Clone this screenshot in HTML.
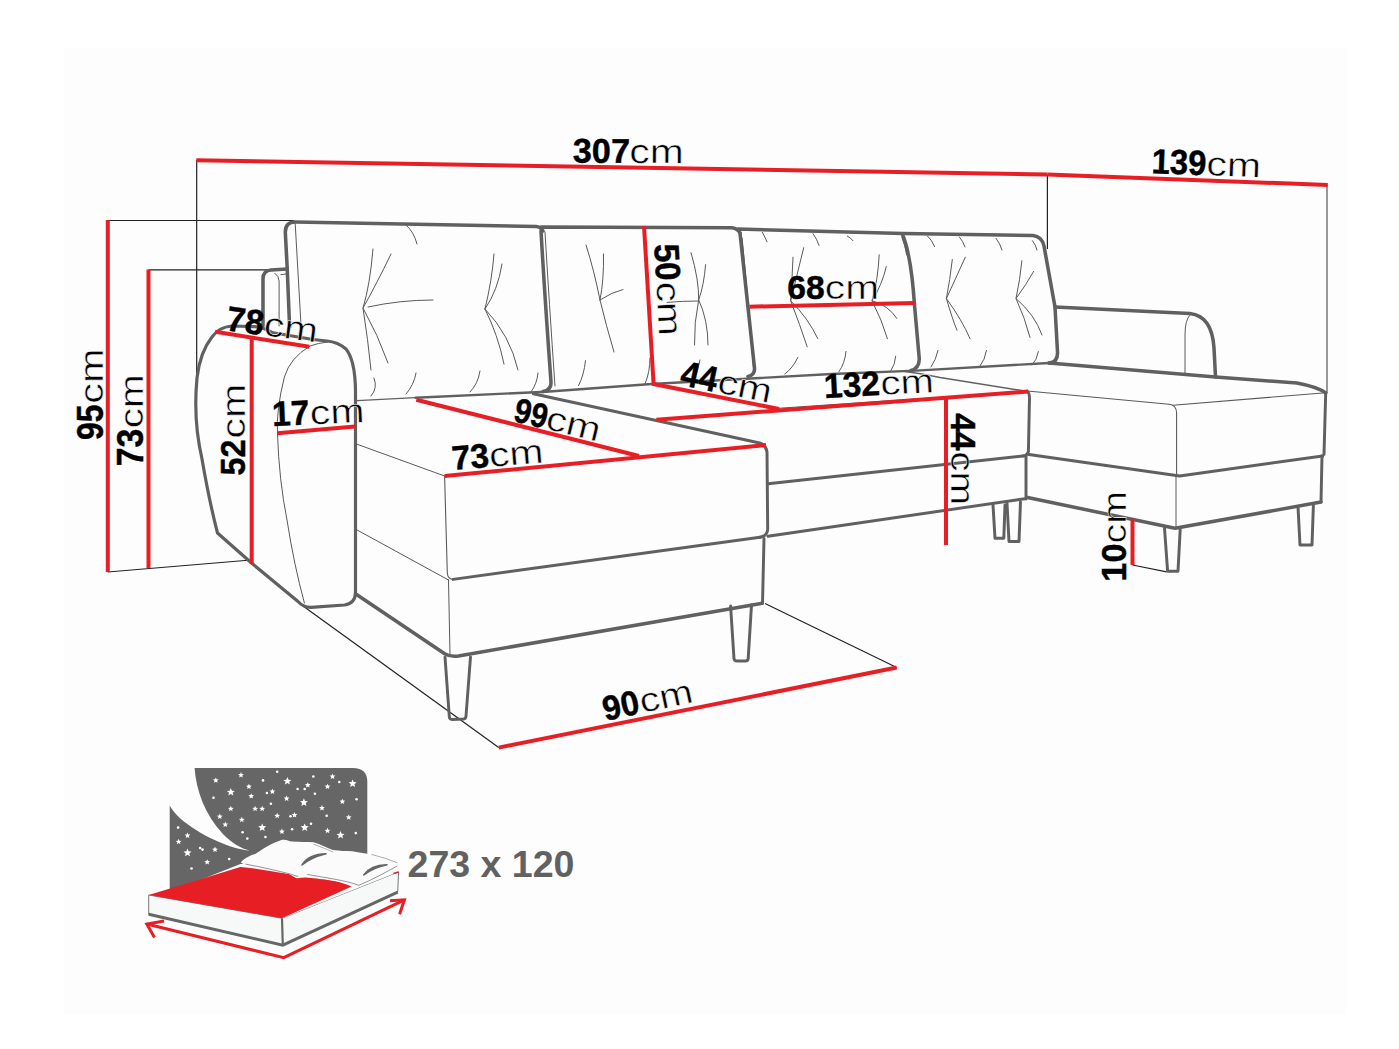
<!DOCTYPE html>
<html><head><meta charset="utf-8"><style>
html,body{margin:0;padding:0;background:#fff;width:1399px;height:1049px;overflow:hidden}
svg{display:block}
.n{font-family:"Liberation Sans",sans-serif;font-weight:bold;fill:#000;stroke:#000;stroke-width:0.45px}
.c{font-family:"Liberation Sans",sans-serif;font-weight:normal;fill:#000;stroke:#fff;stroke-width:0.5px}
</style></head><body>
<svg width="1399" height="1049" viewBox="0 0 1399 1049">
<rect width="1399" height="1049" fill="#fff"/>
<rect x="64" y="48" width="1283" height="967" fill="#fdfdfd"/>
<line x1="196.7" y1="160" x2="196.7" y2="380" stroke="#222" stroke-width="1.2" stroke-linecap="butt"/>
<line x1="108" y1="220.5" x2="294" y2="220.5" stroke="#222" stroke-width="1.2" stroke-linecap="butt"/>
<line x1="148.5" y1="269.8" x2="268" y2="269.8" stroke="#222" stroke-width="1.2" stroke-linecap="butt"/>
<line x1="107.6" y1="572" x2="251" y2="560" stroke="#222" stroke-width="1.2" stroke-linecap="butt"/>
<line x1="1047.4" y1="174.5" x2="1047.4" y2="249" stroke="#222" stroke-width="1.2" stroke-linecap="butt"/>
<line x1="1327" y1="185" x2="1327" y2="393" stroke="#777" stroke-width="1.5" stroke-linecap="butt"/>
<line x1="303" y1="606" x2="498.7" y2="747.6" stroke="#222" stroke-width="1.2" stroke-linecap="butt"/>
<line x1="765" y1="603.5" x2="896.7" y2="667.5" stroke="#222" stroke-width="1.2" stroke-linecap="butt"/>
<line x1="1132.5" y1="565" x2="1166.6" y2="571.8" stroke="#222" stroke-width="1.2" stroke-linecap="butt"/>
<path d="M287.2,268 L285.3,232 Q285.5,222 295,222 L536,226.5 Q541,227 543,231 M541,227 L732,227.7 Q738,228.5 740,233 M738,229 L903,233.6 L1033,235.5 Q1042,236.5 1044,246 L1055,307 L1057.5,352 Q1058,362.5 1049,363" stroke="#606060" stroke-width="3.54" fill="none" stroke-linecap="round" stroke-linejoin="round" />
<path d="M287.2,268 L289.6,327" stroke="#606060" stroke-width="3.54" fill="none" stroke-linecap="round" stroke-linejoin="round" />
<path d="M295.2,223.6 L300.8,321.5" stroke="#5a5a5a" stroke-width="1" fill="none" stroke-linecap="round" stroke-linejoin="round" />
<path d="M287,269 L271,270 Q263,270.5 263,279 L263,326" stroke="#606060" stroke-width="3.54" fill="none" stroke-linecap="round" stroke-linejoin="round" />
<path d="M274.8,273.2 Q279,276 279.1,281 L279.1,326" stroke="#5a5a5a" stroke-width="1" fill="none" stroke-linecap="round" stroke-linejoin="round" />
<path d="M281,274.6 L286,274" stroke="#5a5a5a" stroke-width="1" fill="none" stroke-linecap="round" stroke-linejoin="round" />
<path d="M541,231 Q545,300 551,382 Q551.5,390 543,391.6" stroke="#606060" stroke-width="3.54" fill="none" stroke-linecap="round" stroke-linejoin="round" />
<path d="M545,232 Q549,300 555,386" stroke="#5a5a5a" stroke-width="1" fill="none" stroke-linecap="round" stroke-linejoin="round" />
<path d="M740,233 Q747,300 754.5,368 Q755,375 748,376.5" stroke="#606060" stroke-width="3.54" fill="none" stroke-linecap="round" stroke-linejoin="round" />
<path d="M742,238 Q748,300 754,373" stroke="#5a5a5a" stroke-width="1.2" fill="none" stroke-linecap="round" stroke-linejoin="round" />
<path d="M902.5,234.5 C909,250 912.5,275 914.5,305 L919.2,358 Q919.8,368 911,370.5" stroke="#606060" stroke-width="3.54" fill="none" stroke-linecap="round" stroke-linejoin="round" />
<path d="M902,237.5 Q905,245 906.7,255" stroke="#5a5a5a" stroke-width="1" fill="none" stroke-linecap="round" stroke-linejoin="round" />
<path d="M357,400.6 L415.5,397.7" stroke="#606060" stroke-width="1.2" fill="none" stroke-linecap="round" stroke-linejoin="round" />
<path d="M415.5,397.7 L546,391.8 L651.5,384 L760,378 L831.5,374 L916,370.6 L1049,363" stroke="#606060" stroke-width="2.36" fill="none" stroke-linecap="round" stroke-linejoin="round" />
<path d="M373,249 Q370,285 363,308 Q368,340 371,370" stroke="#5a5a5a" stroke-width="1" fill="none" stroke-linecap="round" stroke-linejoin="round" />
<path d="M391,254 Q376,285 363,308 Q378,335 388,363" stroke="#5a5a5a" stroke-width="1" fill="none" stroke-linecap="round" stroke-linejoin="round" />
<path d="M368,307 Q400,300 433,300" stroke="#5a5a5a" stroke-width="1" fill="none" stroke-linecap="round" stroke-linejoin="round" />
<path d="M406,225 Q414,232 417,244" stroke="#5a5a5a" stroke-width="1" fill="none" stroke-linecap="round" stroke-linejoin="round" />
<path d="M485,309 Q492,280 494,254" stroke="#5a5a5a" stroke-width="1" fill="none" stroke-linecap="round" stroke-linejoin="round" />
<path d="M485,309 Q498,290 502,264" stroke="#5a5a5a" stroke-width="1" fill="none" stroke-linecap="round" stroke-linejoin="round" />
<path d="M485,309 Q498,335 504,364" stroke="#5a5a5a" stroke-width="1" fill="none" stroke-linecap="round" stroke-linejoin="round" />
<path d="M485,309 Q510,335 518,370" stroke="#5a5a5a" stroke-width="1" fill="none" stroke-linecap="round" stroke-linejoin="round" />
<path d="M374,378 Q378,388 371,396" stroke="#5a5a5a" stroke-width="1" fill="none" stroke-linecap="round" stroke-linejoin="round" />
<path d="M416,373 Q414,385 406,394" stroke="#5a5a5a" stroke-width="1" fill="none" stroke-linecap="round" stroke-linejoin="round" />
<path d="M480,371 Q478,384 470,392" stroke="#5a5a5a" stroke-width="1" fill="none" stroke-linecap="round" stroke-linejoin="round" />
<path d="M538,373 Q537,384 531,392" stroke="#5a5a5a" stroke-width="1" fill="none" stroke-linecap="round" stroke-linejoin="round" />
<path d="M586,245 Q594,270 600,300 Q606,325 614,352" stroke="#5a5a5a" stroke-width="1" fill="none" stroke-linecap="round" stroke-linejoin="round" />
<path d="M603.5,254 Q604,280 600,300" stroke="#5a5a5a" stroke-width="1" fill="none" stroke-linecap="round" stroke-linejoin="round" />
<path d="M600,300 Q612,292 623,289.5" stroke="#5a5a5a" stroke-width="1" fill="none" stroke-linecap="round" stroke-linejoin="round" />
<path d="M691,252.6 Q699,280 698.7,300 Q694,322 694.5,345" stroke="#5a5a5a" stroke-width="1" fill="none" stroke-linecap="round" stroke-linejoin="round" />
<path d="M705.6,264.6 Q704,285 698.7,300 Q708,320 708,345" stroke="#5a5a5a" stroke-width="1" fill="none" stroke-linecap="round" stroke-linejoin="round" />
<path d="M667,302.4 Q683,301 698,301" stroke="#5a5a5a" stroke-width="1" fill="none" stroke-linecap="round" stroke-linejoin="round" />
<path d="M585.5,360.7 Q584,375 578.6,385.6" stroke="#5a5a5a" stroke-width="1" fill="none" stroke-linecap="round" stroke-linejoin="round" />
<path d="M650,358 Q650,372 645,384" stroke="#5a5a5a" stroke-width="1" fill="none" stroke-linecap="round" stroke-linejoin="round" />
<path d="M700,360 Q698,372 693,382" stroke="#5a5a5a" stroke-width="1" fill="none" stroke-linecap="round" stroke-linejoin="round" />
<path d="M803.7,247.7 Q797,275 790.7,300.8 Q800,325 807.2,346.8" stroke="#5a5a5a" stroke-width="1" fill="none" stroke-linecap="round" stroke-linejoin="round" />
<path d="M793,257.2 Q792,280 790.7,300.8 Q808,318 817.8,338.6" stroke="#5a5a5a" stroke-width="1" fill="none" stroke-linecap="round" stroke-linejoin="round" />
<path d="M879.2,254.8 Q878,280 872,300.8 Q882,320 887.4,338.6" stroke="#5a5a5a" stroke-width="1" fill="none" stroke-linecap="round" stroke-linejoin="round" />
<path d="M886.3,266.6 Q882,285 872,300.8 Q888,305 896.9,318.5" stroke="#5a5a5a" stroke-width="1" fill="none" stroke-linecap="round" stroke-linejoin="round" />
<path d="M762.4,232.4 Q765,237 767,241.8" stroke="#5a5a5a" stroke-width="1" fill="none" stroke-linecap="round" stroke-linejoin="round" />
<path d="M813,233.6 Q817,239 819,245.4" stroke="#5a5a5a" stroke-width="1" fill="none" stroke-linecap="round" stroke-linejoin="round" />
<path d="M847.3,236 Q851,238 853,240.7" stroke="#5a5a5a" stroke-width="1" fill="none" stroke-linecap="round" stroke-linejoin="round" />
<path d="M797.8,357.4 Q793,368 784.8,374" stroke="#5a5a5a" stroke-width="1" fill="none" stroke-linecap="round" stroke-linejoin="round" />
<path d="M846,351.5 Q845,363 839,371.6" stroke="#5a5a5a" stroke-width="1" fill="none" stroke-linecap="round" stroke-linejoin="round" />
<path d="M895.7,356.3 Q895,365 891,370.4" stroke="#5a5a5a" stroke-width="1" fill="none" stroke-linecap="round" stroke-linejoin="round" />
<path d="M952.3,259.5 Q950,280 946.4,298.5 Q952,318 957,330.3" stroke="#5a5a5a" stroke-width="1" fill="none" stroke-linecap="round" stroke-linejoin="round" />
<path d="M965.3,257.2 Q955,280 946.4,298.5 Q962,320 970,338.6" stroke="#5a5a5a" stroke-width="1" fill="none" stroke-linecap="round" stroke-linejoin="round" />
<path d="M1021.9,260.7 Q1020,280 1016,298.5 Q1025,318 1030,337.4" stroke="#5a5a5a" stroke-width="1" fill="none" stroke-linecap="round" stroke-linejoin="round" />
<path d="M1033.7,271.3 Q1026,285 1016,298.5 Q1035,315 1042,335" stroke="#5a5a5a" stroke-width="1" fill="none" stroke-linecap="round" stroke-linejoin="round" />
<path d="M927.5,236 Q932,240 934.6,246.6" stroke="#5a5a5a" stroke-width="1" fill="none" stroke-linecap="round" stroke-linejoin="round" />
<path d="M959.4,237 Q963,241 965,247" stroke="#5a5a5a" stroke-width="1" fill="none" stroke-linecap="round" stroke-linejoin="round" />
<path d="M996,238.3 Q1000,243 1002,250" stroke="#5a5a5a" stroke-width="1" fill="none" stroke-linecap="round" stroke-linejoin="round" />
<path d="M1032.5,240.7 Q1036,245 1037,250" stroke="#5a5a5a" stroke-width="1" fill="none" stroke-linecap="round" stroke-linejoin="round" />
<path d="M938,350.4 Q936,360 931,367" stroke="#5a5a5a" stroke-width="1" fill="none" stroke-linecap="round" stroke-linejoin="round" />
<path d="M986.5,350.4 Q985,360 980,366" stroke="#5a5a5a" stroke-width="1" fill="none" stroke-linecap="round" stroke-linejoin="round" />
<path d="M1038.4,351.5 Q1037,360 1032,365" stroke="#5a5a5a" stroke-width="1" fill="none" stroke-linecap="round" stroke-linejoin="round" />
<path d="M231.6,326 Q219,327 212,337 Q200,352 197,378 Q193,420 202,459 Q209,500 217.5,533 L251.5,563 L298,601.5 Q303.5,607.5 311,607.3 L344.5,605 Q355.5,603.5 355.5,592 L355.5,390 Q355,360 346,349 Q338,342 327,341 L313,339.5 L273,332.8 Q262,327 254.7,326.7 Z" stroke="#606060" stroke-width="3.19" fill="none" stroke-linecap="round" stroke-linejoin="round" />
<path d="M327.6,342 Q318,343 310,346 Q290,358 284.4,377 Q276,410 277.5,434 Q279,480 287,520 Q294,565 304.4,603" stroke="#5a5a5a" stroke-width="1" fill="none" stroke-linecap="round" stroke-linejoin="round" />
<path d="M533.4,393.8 L759.7,443 Q766,445 767,452 L767.7,529 Q767.5,536 760,537.3" stroke="#606060" stroke-width="2.95" fill="none" stroke-linecap="round" stroke-linejoin="round" />
<path d="M356.4,444 L444.6,476" stroke="#5a5a5a" stroke-width="1" fill="none" stroke-linecap="round" stroke-linejoin="round" />
<path d="M444.6,476 L447.3,573 Q447.8,579.6 454,579.3" stroke="#5a5a5a" stroke-width="1.1" fill="none" stroke-linecap="round" stroke-linejoin="round" />
<path d="M356.4,529.6 L448.5,580" stroke="#5a5a5a" stroke-width="1" fill="none" stroke-linecap="round" stroke-linejoin="round" />
<path d="M453,579.4 L760,537.3" stroke="#606060" stroke-width="2.95" fill="none" stroke-linecap="round" stroke-linejoin="round" />
<path d="M448.5,580 L450,654.6" stroke="#5a5a5a" stroke-width="1" fill="none" stroke-linecap="round" stroke-linejoin="round" />
<path d="M764,538.5 L762.5,603.6" stroke="#606060" stroke-width="2.95" fill="none" stroke-linecap="round" stroke-linejoin="round" />
<path d="M355.8,594 L444.7,653.8 Q450,657 458.4,656 L761,603.5" stroke="#606060" stroke-width="3.54" fill="none" stroke-linecap="round" stroke-linejoin="round" />
<path d="M445,657 L449.3,716.5 Q449.5,719.5 452,719.5 L463.5,719 Q466,718.8 466,716 L470.5,657" stroke="#606060" stroke-width="2.95" fill="none" stroke-linecap="round" stroke-linejoin="round" />
<path d="M730.6,606 L734,658.6 Q734.3,661 737,661 L745.5,661 Q748,661 748.2,658.6 L751.5,605" stroke="#606060" stroke-width="2.95" fill="none" stroke-linecap="round" stroke-linejoin="round" />
<path d="M768,409 L1027.4,391.4" stroke="#5a5a5a" stroke-width="1" fill="none" stroke-linecap="round" stroke-linejoin="round" />
<path d="M1027.4,391.4 Q1029.5,393 1029.5,398 L1028.4,451.5 Q1027,456 1023,456" stroke="#606060" stroke-width="2.95" fill="none" stroke-linecap="round" stroke-linejoin="round" />
<path d="M768,483.7 L1023,456" stroke="#606060" stroke-width="2.95" fill="none" stroke-linecap="round" stroke-linejoin="round" />
<path d="M1026,456 L1026,499" stroke="#606060" stroke-width="2.95" fill="none" stroke-linecap="round" stroke-linejoin="round" />
<path d="M768,536.2 L1025,498.7" stroke="#606060" stroke-width="2.95" fill="none" stroke-linecap="round" stroke-linejoin="round" />
<path d="M905,371.5 Q922,373.5 940,377.5 L1027.4,391.4" stroke="#606060" stroke-width="1.5" fill="none" stroke-linecap="round" stroke-linejoin="round" />
<path d="M993,505 L995,538.3 L1003.8,538.3 L1005,505" stroke="#606060" stroke-width="2.95" fill="none" stroke-linecap="round" stroke-linejoin="round" />
<path d="M1007,503 L1009,541.5 L1019,541.5 L1020.5,502" stroke="#606060" stroke-width="2.95" fill="none" stroke-linecap="round" stroke-linejoin="round" />
<path d="M1055,307 L1190,313.5 Q1212,316 1214,348 L1215.5,377" stroke="#606060" stroke-width="3.54" fill="none" stroke-linecap="round" stroke-linejoin="round" />
<path d="M1190,315 Q1185,320 1185,335 L1185,375" stroke="#5a5a5a" stroke-width="1" fill="none" stroke-linecap="round" stroke-linejoin="round" />
<path d="M1049,363 L1215.5,377 L1297,383 Q1318,387 1325.7,393" stroke="#606060" stroke-width="3.54" fill="none" stroke-linecap="round" stroke-linejoin="round" />
<path d="M1027.4,391 L1169,404.3 Q1176.4,405 1176.6,413 L1176.6,476" stroke="#5a5a5a" stroke-width="1.1" fill="none" stroke-linecap="round" stroke-linejoin="round" />
<path d="M1173,405.2 L1322.6,393" stroke="#5a5a5a" stroke-width="1.1" fill="none" stroke-linecap="round" stroke-linejoin="round" />
<path d="M1325.7,393 L1324,454.5" stroke="#606060" stroke-width="2.95" fill="none" stroke-linecap="round" stroke-linejoin="round" />
<path d="M1029,454.5 L1179.7,476 L1322.6,456" stroke="#606060" stroke-width="2.95" fill="none" stroke-linecap="round" stroke-linejoin="round" />
<path d="M1322,456 L1321,502" stroke="#606060" stroke-width="2.95" fill="none" stroke-linecap="round" stroke-linejoin="round" />
<path d="M1027.6,497.5 L1175,528.3 L1321,502" stroke="#606060" stroke-width="3.54" fill="none" stroke-linecap="round" stroke-linejoin="round" />
<path d="M1176,476 L1176,528" stroke="#5a5a5a" stroke-width="1" fill="none" stroke-linecap="round" stroke-linejoin="round" />
<path d="M1164.5,528.2 L1167.6,571.2 L1178,571.2 L1180.2,529.3" stroke="#606060" stroke-width="2.95" fill="none" stroke-linecap="round" stroke-linejoin="round" />
<path d="M1298,506.8 L1300,545 L1312,545 L1313.4,505" stroke="#606060" stroke-width="2.95" fill="none" stroke-linecap="round" stroke-linejoin="round" />
<path d="M196.3,160.3 L1047.4,174.6" stroke="#e81e25" stroke-width="4" fill="none" stroke-linejoin="miter" stroke-linecap="butt"/>
<path d="M1047.4,174.6 L1327.8,185" stroke="#e81e25" stroke-width="4" fill="none" stroke-linejoin="miter" stroke-linecap="butt"/>
<path d="M107.8,220 L107.8,572" stroke="#e81e25" stroke-width="4" fill="none" stroke-linejoin="miter" stroke-linecap="butt"/>
<path d="M148.5,269.5 L148.5,568" stroke="#e81e25" stroke-width="4" fill="none" stroke-linejoin="miter" stroke-linecap="butt"/>
<path d="M215.2,331.8 L309.4,346.8" stroke="#e81e25" stroke-width="4" fill="none" stroke-linejoin="miter" stroke-linecap="butt"/>
<path d="M251.7,338 L251.7,564" stroke="#e81e25" stroke-width="4" fill="none" stroke-linejoin="miter" stroke-linecap="butt"/>
<path d="M277.5,433.3 L355.2,426.5" stroke="#e81e25" stroke-width="4" fill="none" stroke-linejoin="miter" stroke-linecap="butt"/>
<path d="M416.3,399.7 L639,456" stroke="#e81e25" stroke-width="4" fill="none" stroke-linejoin="miter" stroke-linecap="butt"/>
<path d="M444.6,476 L766,445" stroke="#e81e25" stroke-width="4" fill="none" stroke-linejoin="miter" stroke-linecap="butt"/>
<path d="M644,226 L653.6,384 L779,409" stroke="#e81e25" stroke-width="4" fill="none" stroke-linejoin="miter" stroke-linecap="butt"/>
<path d="M656.4,419.8 L1028,391.5" stroke="#e81e25" stroke-width="4" fill="none" stroke-linejoin="miter" stroke-linecap="butt"/>
<path d="M749.4,306.7 L914.6,303" stroke="#e81e25" stroke-width="4" fill="none" stroke-linejoin="miter" stroke-linecap="butt"/>
<path d="M946,398 L946,545" stroke="#e81e25" stroke-width="4" fill="none" stroke-linejoin="miter" stroke-linecap="butt"/>
<path d="M1132.5,518.8 L1132.5,565" stroke="#e81e25" stroke-width="4" fill="none" stroke-linejoin="miter" stroke-linecap="butt"/>
<path d="M498.7,747.6 L896.7,667.5" stroke="#e81e25" stroke-width="4" fill="none" stroke-linejoin="miter" stroke-linecap="butt"/>
<g transform="translate(573.5,162.6) rotate(0.3)"><text class="n" x="-0.68" y="0" font-size="34.29" textLength="57.11" lengthAdjust="spacingAndGlyphs">307</text><text class="c" x="55.77" y="0" font-size="33.89" textLength="54.30" lengthAdjust="spacingAndGlyphs">cm</text></g>
<g transform="translate(1153.3,173.2) rotate(2.1)"><text class="n" x="-1.97" y="0" font-size="35.00" textLength="54.73" lengthAdjust="spacingAndGlyphs">139</text><text class="c" x="52.86" y="0" font-size="33.89" textLength="54.63" lengthAdjust="spacingAndGlyphs">cm</text></g>
<g transform="translate(102.5,439) rotate(-90)"><text class="n" x="-0.95" y="0" font-size="36.29" textLength="35.38" lengthAdjust="spacingAndGlyphs">95</text><text class="c" x="35.34" y="0" font-size="33.89" textLength="55.28" lengthAdjust="spacingAndGlyphs">cm</text></g>
<g transform="translate(143,465) rotate(-90)"><text class="n" x="-1.35" y="0" font-size="36.14" textLength="37.65" lengthAdjust="spacingAndGlyphs">73</text><text class="c" x="36.68" y="0" font-size="33.89" textLength="53.87" lengthAdjust="spacingAndGlyphs">cm</text></g>
<g transform="translate(245,474.5) rotate(-90)"><text class="n" x="-0.97" y="0" font-size="35.14" textLength="36.04" lengthAdjust="spacingAndGlyphs">52</text><text class="c" x="36.06" y="0" font-size="33.89" textLength="54.63" lengthAdjust="spacingAndGlyphs">cm</text></g>
<g transform="translate(226.5,330.5) rotate(7.5)"><text class="n" x="-1.35" y="0" font-size="35.00" textLength="37.43" lengthAdjust="spacingAndGlyphs">78</text><text class="c" x="36.47" y="0" font-size="33.89" textLength="54.30" lengthAdjust="spacingAndGlyphs">cm</text></g>
<g transform="translate(274.6,426) rotate(-2.5)"><text class="n" x="-2.01" y="0" font-size="34.86" textLength="37.22" lengthAdjust="spacingAndGlyphs">17</text><text class="c" x="35.66" y="0" font-size="33.89" textLength="54.73" lengthAdjust="spacingAndGlyphs">cm</text></g>
<g transform="translate(513,421) rotate(13.7)"><text class="n" x="-0.90" y="0" font-size="34.29" textLength="33.48" lengthAdjust="spacingAndGlyphs">99</text><text class="c" x="32.05" y="0" font-size="33.89" textLength="55.06" lengthAdjust="spacingAndGlyphs">cm</text></g>
<g transform="translate(454,470) rotate(-4.8)"><text class="n" x="-1.34" y="0" font-size="34.00" textLength="37.33" lengthAdjust="spacingAndGlyphs">73</text><text class="c" x="36.17" y="0" font-size="33.89" textLength="54.41" lengthAdjust="spacingAndGlyphs">cm</text></g>
<g transform="translate(654.3,245.4) rotate(87)"><text class="n" x="-0.99" y="0" font-size="35.14" textLength="36.69" lengthAdjust="spacingAndGlyphs">50</text><text class="c" x="36.88" y="0" font-size="33.89" textLength="54.08" lengthAdjust="spacingAndGlyphs">cm</text></g>
<g transform="translate(679.3,384.8) rotate(11.5)"><text class="n" x="-0.33" y="0" font-size="35.71" textLength="36.91" lengthAdjust="spacingAndGlyphs">44</text><text class="c" x="37.36" y="0" font-size="33.89" textLength="54.73" lengthAdjust="spacingAndGlyphs">cm</text></g>
<g transform="translate(788.6,299.3) rotate(0)"><text class="n" x="-1.35" y="0" font-size="34.00" textLength="37.43" lengthAdjust="spacingAndGlyphs">68</text><text class="c" x="36.27" y="0" font-size="33.89" textLength="54.19" lengthAdjust="spacingAndGlyphs">cm</text></g>
<g transform="translate(826.5,397.8) rotate(-3)"><text class="n" x="-2.01" y="0" font-size="34.29" textLength="56.01" lengthAdjust="spacingAndGlyphs">132</text><text class="c" x="54.50" y="0" font-size="33.89" textLength="53.43" lengthAdjust="spacingAndGlyphs">cm</text></g>
<g transform="translate(951.2,413.5) rotate(90)"><text class="n" x="-0.33" y="0" font-size="35.43" textLength="37.21" lengthAdjust="spacingAndGlyphs">44</text><text class="c" x="37.88" y="0" font-size="33.89" textLength="53.98" lengthAdjust="spacingAndGlyphs">cm</text></g>
<g transform="translate(1126,579.6) rotate(-90)"><text class="n" x="-2.06" y="0" font-size="35.29" textLength="38.11" lengthAdjust="spacingAndGlyphs">10</text><text class="c" x="36.13" y="0" font-size="33.89" textLength="52.35" lengthAdjust="spacingAndGlyphs">cm</text></g>
<g transform="translate(606.3,720.7) rotate(-12)"><text class="n" x="-0.99" y="0" font-size="34.57" textLength="36.58" lengthAdjust="spacingAndGlyphs">90</text><text class="c" x="36.59" y="0" font-size="33.89" textLength="53.76" lengthAdjust="spacingAndGlyphs">cm</text></g>
<path d="M169.7,768 L353,768 Q367.3,768 367.3,782 L367.3,895 L169.7,895 Z" fill="#666"/>
<path d="M160,760 L194.6,768 C196,790 205,815 222.9,834 C232,843 240,848 249.6,850.6 C232,849 205,838 183.6,821.3 C177,816 172,810 169.7,805.6 L160,805.6 Z" fill="#fdfdfd"/>
<polygon points="230.8,788.0 231.9,790.7 234.8,790.9 232.6,792.8 233.3,795.6 230.8,794.1 228.3,795.6 229.0,792.8 226.8,790.9 229.7,790.7" fill="#fff"/>
<polygon points="287.4,777.0 288.5,779.7 291.4,779.9 289.2,781.8 289.9,784.6 287.4,783.1 284.9,784.6 285.6,781.8 283.4,779.9 286.3,779.7" fill="#fff"/>
<polygon points="303.9,798.3 305.0,801.0 307.9,801.2 305.7,803.1 306.4,805.9 303.9,804.4 301.4,805.9 302.1,803.1 299.9,801.2 302.8,801.0" fill="#fff"/>
<polygon points="262.2,823.4 263.3,826.1 266.2,826.3 264.0,828.2 264.7,831.0 262.2,829.5 259.7,831.0 260.4,828.2 258.2,826.3 261.1,826.1" fill="#fff"/>
<polygon points="304.7,823.4 305.8,826.1 308.7,826.3 306.5,828.2 307.2,831.0 304.7,829.5 302.2,831.0 302.9,828.2 300.7,826.3 303.6,826.1" fill="#fff"/>
<polygon points="352.6,779.4 353.7,782.1 356.6,782.3 354.4,784.2 355.1,787.0 352.6,785.5 350.1,787.0 350.8,784.2 348.6,782.3 351.5,782.1" fill="#fff"/>
<polygon points="340.5,831.0 341.6,833.7 344.5,833.9 342.3,835.8 343.0,838.6 340.5,837.1 338.0,838.6 338.7,835.8 336.5,833.9 339.4,833.7" fill="#fff"/>
<polygon points="187.5,848.6 188.6,851.3 191.5,851.5 189.3,853.4 190.0,856.2 187.5,854.7 185.0,856.2 185.7,853.4 183.5,851.5 186.4,851.3" fill="#fff"/>
<polygon points="215.8,777.4 216.6,779.3 218.7,779.5 217.1,780.8 217.6,782.8 215.8,781.8 214.0,782.8 214.5,780.8 212.9,779.5 215.0,779.3" fill="#fff"/>
<polygon points="241.0,772.0 241.8,773.9 243.9,774.1 242.3,775.4 242.8,777.4 241.0,776.4 239.2,777.4 239.7,775.4 238.1,774.1 240.2,773.9" fill="#fff"/>
<polygon points="248.9,783.7 249.7,785.6 251.8,785.8 250.2,787.1 250.7,789.1 248.9,788.1 247.1,789.1 247.6,787.1 246.0,785.8 248.1,785.6" fill="#fff"/>
<polygon points="251.2,793.2 252.0,795.1 254.1,795.3 252.5,796.6 253.0,798.6 251.2,797.6 249.4,798.6 249.9,796.6 248.3,795.3 250.4,795.1" fill="#fff"/>
<polygon points="272.4,788.5 273.2,790.4 275.3,790.6 273.7,791.9 274.2,793.9 272.4,792.9 270.6,793.9 271.1,791.9 269.5,790.6 271.6,790.4" fill="#fff"/>
<polygon points="230.8,805.8 231.6,807.7 233.7,807.9 232.1,809.2 232.6,811.2 230.8,810.1 229.0,811.2 229.5,809.2 227.9,807.9 230.0,807.7" fill="#fff"/>
<polygon points="255.1,805.8 255.9,807.7 258.0,807.9 256.4,809.2 256.9,811.2 255.1,810.1 253.3,811.2 253.8,809.2 252.2,807.9 254.3,807.7" fill="#fff"/>
<polygon points="262.2,805.8 263.0,807.7 265.1,807.9 263.5,809.2 264.0,811.2 262.2,810.1 260.4,811.2 260.9,809.2 259.3,807.9 261.4,807.7" fill="#fff"/>
<polygon points="219.8,813.6 220.6,815.5 222.7,815.7 221.1,817.0 221.6,819.0 219.8,818.0 218.0,819.0 218.5,817.0 216.9,815.7 219.0,815.5" fill="#fff"/>
<polygon points="241.8,816.8 242.6,818.7 244.7,818.9 243.1,820.2 243.6,822.2 241.8,821.1 240.0,822.2 240.5,820.2 238.9,818.9 241.0,818.7" fill="#fff"/>
<polygon points="225.3,821.5 226.1,823.4 228.2,823.6 226.6,824.9 227.1,826.9 225.3,825.9 223.5,826.9 224.0,824.9 222.4,823.6 224.5,823.4" fill="#fff"/>
<polygon points="277.2,812.8 278.0,814.7 280.1,814.9 278.5,816.2 279.0,818.2 277.2,817.1 275.4,818.2 275.9,816.2 274.3,814.9 276.4,814.7" fill="#fff"/>
<polygon points="294.5,812.0 295.3,813.9 297.4,814.1 295.8,815.4 296.3,817.4 294.5,816.4 292.7,817.4 293.2,815.4 291.6,814.1 293.7,813.9" fill="#fff"/>
<polygon points="286.6,795.5 287.4,797.4 289.5,797.6 287.9,798.9 288.4,800.9 286.6,799.9 284.8,800.9 285.3,798.9 283.7,797.6 285.8,797.4" fill="#fff"/>
<polygon points="307.8,782.2 308.6,784.1 310.7,784.3 309.1,785.6 309.6,787.6 307.8,786.6 306.0,787.6 306.5,785.6 304.9,784.3 307.0,784.1" fill="#fff"/>
<polygon points="327.5,783.7 328.3,785.6 330.4,785.8 328.8,787.1 329.3,789.1 327.5,788.1 325.7,789.1 326.2,787.1 324.6,785.8 326.7,785.6" fill="#fff"/>
<polygon points="332.5,773.5 333.3,775.4 335.4,775.6 333.8,776.9 334.3,778.9 332.5,777.9 330.7,778.9 331.2,776.9 329.6,775.6 331.7,775.4" fill="#fff"/>
<polygon points="342.4,798.7 343.2,800.6 345.3,800.8 343.7,802.1 344.2,804.1 342.4,803.1 340.6,804.1 341.1,802.1 339.5,800.8 341.6,800.6" fill="#fff"/>
<polygon points="322.0,805.0 322.8,806.9 324.9,807.1 323.3,808.4 323.8,810.4 322.0,809.4 320.2,810.4 320.7,808.4 319.1,807.1 321.2,806.9" fill="#fff"/>
<polygon points="348.7,814.4 349.5,816.3 351.6,816.5 350.0,817.8 350.5,819.8 348.7,818.8 346.9,819.8 347.4,817.8 345.8,816.5 347.9,816.3" fill="#fff"/>
<polygon points="327.5,827.8 328.3,829.7 330.4,829.9 328.8,831.2 329.3,833.2 327.5,832.1 325.7,833.2 326.2,831.2 324.6,829.9 326.7,829.7" fill="#fff"/>
<polygon points="281.9,828.6 282.7,830.5 284.8,830.7 283.2,832.0 283.7,834.0 281.9,833.0 280.1,834.0 280.6,832.0 279.0,830.7 281.1,830.5" fill="#fff"/>
<polygon points="187.5,832.5 188.3,834.4 190.4,834.6 188.8,835.9 189.3,837.9 187.5,836.9 185.7,837.9 186.2,835.9 184.6,834.6 186.7,834.4" fill="#fff"/>
<polygon points="178.6,838.8 179.4,840.7 181.5,840.9 179.9,842.2 180.4,844.2 178.6,843.1 176.8,844.2 177.3,842.2 175.7,840.9 177.8,840.7" fill="#fff"/>
<polygon points="215.0,846.6 215.8,848.5 217.9,848.7 216.3,850.0 216.8,852.0 215.0,851.0 213.2,852.0 213.7,850.0 212.1,848.7 214.2,848.5" fill="#fff"/>
<polygon points="207.2,859.2 208.0,861.1 210.1,861.3 208.5,862.6 209.0,864.6 207.2,863.6 205.4,864.6 205.9,862.6 204.3,861.3 206.4,861.1" fill="#fff"/>
<circle cx="277.2" cy="771.8" r="1.3" fill="#fff"/>
<circle cx="263" cy="780.4" r="1.3" fill="#fff"/>
<circle cx="213.5" cy="797.7" r="1.3" fill="#fff"/>
<circle cx="266.9" cy="793" r="1.3" fill="#fff"/>
<circle cx="297.6" cy="789" r="1.3" fill="#fff"/>
<circle cx="304.7" cy="789" r="1.3" fill="#fff"/>
<circle cx="313.3" cy="776.5" r="1.3" fill="#fff"/>
<circle cx="339.3" cy="782" r="1.3" fill="#fff"/>
<circle cx="314.9" cy="793.8" r="1.3" fill="#fff"/>
<circle cx="356.6" cy="799.3" r="1.3" fill="#fff"/>
<circle cx="270.9" cy="803.7" r="1.3" fill="#fff"/>
<circle cx="290.5" cy="816.3" r="1.3" fill="#fff"/>
<circle cx="326.7" cy="815.8" r="1.3" fill="#fff"/>
<circle cx="311" cy="823.7" r="1.3" fill="#fff"/>
<circle cx="292.1" cy="829.2" r="1.3" fill="#fff"/>
<circle cx="242.6" cy="832.3" r="1.3" fill="#fff"/>
<circle cx="247.3" cy="838.6" r="1.3" fill="#fff"/>
<circle cx="265.4" cy="837" r="1.3" fill="#fff"/>
<circle cx="355.8" cy="833.1" r="1.3" fill="#fff"/>
<circle cx="178.1" cy="827.6" r="1.3" fill="#fff"/>
<circle cx="200.1" cy="848" r="1.3" fill="#fff"/>
<circle cx="202.5" cy="849.6" r="1.3" fill="#fff"/>
<circle cx="229.2" cy="859" r="1.3" fill="#fff"/>
<circle cx="191.5" cy="868.5" r="1.3" fill="#fff"/>
<path d="M148.7,895 L281.9,918.2 L398.6,871.8 L397.7,892.1 L282.8,945.2 L148.7,914.3 Z" fill="#f7f9f9" stroke="#777" stroke-width="1"/>
<path d="M148.7,914.3 L282.8,945.2 L397.7,892.1" stroke="#666" stroke-width="3" fill="none"/>
<path d="M282,918.2 L282.8,945" stroke="#666" stroke-width="2.2" fill="none"/>
<path d="M200,880 L240.4,864 L398.6,862 L398.6,871.8 L281.9,918.2 Z" fill="#f9fbfb"/>
<path d="M148.7,895 L240.4,867 C255,868 270,871.5 288,873.7 C292,875 295,878 297,878.2 C300,878 303,877.5 306,877.6 L313.6,878.2 C322,879 330,880 333,880.8 C340,882 346,884 351.6,886.6 L281.9,918.2 Z" fill="#e81e25"/>
<path d="M393.4,873.5 L398.6,872" stroke="#e81e25" stroke-width="1.5"/>
<path d="M240.9,862.2 C246,857 252,855 255.7,853.8 C262,849 272,843 278.9,840.9 C281,839.8 283,839.5 284,839.7 C287,840 289,841 291.8,841.6 C300,842 307,842 313.6,842.2 C322,845 328,848 332.9,850 C340,851 346,851 352.2,851.2 C362,853 370,854 378,855.7 C386,857 392,859 396,861.5 C398,862.5 399,864 398.6,864.7 C398,866 397,867.5 396,868.6 C392,871 388,873 384.4,875 C376,879 370,882 365,884 C362,885.5 360,886 358.7,886 C356,885.5 354,884.5 352.2,884 C350,883.5 348,883 345.8,882.8 C335,881 320,878 307,876 C303,875.5 300,876.5 298.2,876.3 C295,875.5 293,874.5 291.8,874.4 C275,871 260,867 245,864.5 C243,864 241.5,863 240.9,862.2 Z" fill="#fbfbfb"/>
<path d="M245.4,864.1 C262,867 278,871 291.8,874.4 Q295,876 298.2,876.3" stroke="#888" stroke-width="0.9" fill="none"/>
<path d="M307.2,874.4 C322,877 335,879 345.8,881.5 Q353,883 358.7,885.3 C372,880 386,872 397.3,866" stroke="#888" stroke-width="0.9" fill="none"/>
<path d="M313.6,844.2 Q324,848 333,852" stroke="#999" stroke-width="0.8" fill="none"/>
<path d="M371.5,854.4 Q386,858 397.3,862.8" stroke="#999" stroke-width="0.8" fill="none"/>
<path d="M302,865 Q309,854 326,853.8 Q311,857.5 302,865 Z" fill="#666" stroke="#666" stroke-width="1.6" stroke-linejoin="round"/>
<path d="M363.8,875 Q371,864.5 387,864.7 Q373,867.5 363.8,875 Z" fill="#666" stroke="#666" stroke-width="1.6" stroke-linejoin="round"/>
<path d="M146.8,924 L283.8,957.7 L404.4,899.8" stroke="#e81e25" stroke-width="3" fill="none"/>
<path d="M164.1,921 L146.8,924 L154.5,937.5" stroke="#e81e25" stroke-width="3" fill="none"/>
<path d="M390,900.8 L404.4,899.8 L399.6,914.3" stroke="#e81e25" stroke-width="3" fill="none"/>
<text x="407.5" y="876.8" font-family="Liberation Sans" font-weight="bold" font-size="37" fill="#616161" textLength="167" lengthAdjust="spacingAndGlyphs">273 x 120</text>
</svg>
</body></html>
